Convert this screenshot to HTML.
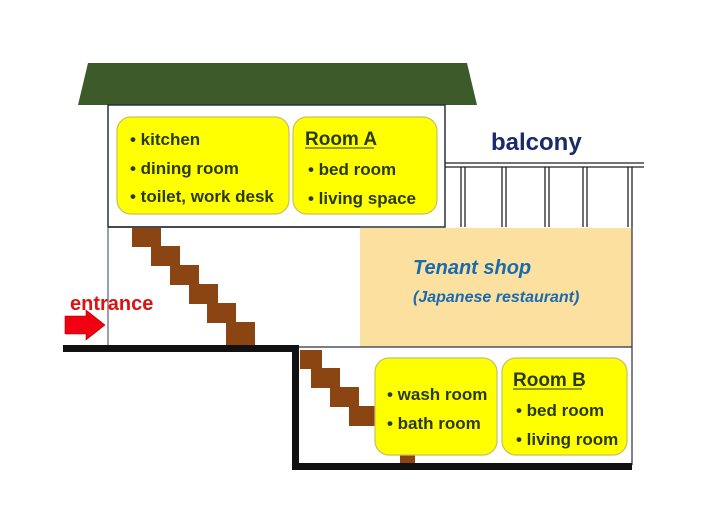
<!DOCTYPE html>
<html><head><meta charset="utf-8"><style>
body{margin:0;background:#fff;width:720px;height:509px;overflow:hidden}
svg text{font-family:"Liberation Sans",sans-serif;font-weight:bold}
</style></head><body>
<svg width="720" height="509" viewBox="0 0 720 509" xmlns="http://www.w3.org/2000/svg">
<polygon points="88,63 467,63 477,105 78,105" fill="#3d5a2a"/>
<rect x="108" y="105" width="337" height="122" fill="#fff" stroke="#2a3040" stroke-width="1.5"/>
<rect x="360" y="228" width="272" height="119" fill="#fbe0a0"/>
<line x1="108" y1="227" x2="108" y2="347" stroke="#7a8090" stroke-width="1.5"/>
<line x1="632" y1="227" x2="632" y2="465" stroke="#2a3040" stroke-width="1.2"/>
<line x1="297" y1="347" x2="632" y2="347" stroke="#2a3040" stroke-width="1.2"/>
<line x1="108" y1="227" x2="360" y2="227" stroke="#2a3040" stroke-width="1.5"/>
<g stroke="#222" stroke-width="1.3">
<line x1="445" y1="163" x2="644" y2="163"/><line x1="445" y1="167" x2="644" y2="167"/>
<line x1="461" y1="167" x2="461" y2="227"/><line x1="465" y1="167" x2="465" y2="227"/>
<line x1="502" y1="167" x2="502" y2="227"/><line x1="506" y1="167" x2="506" y2="227"/>
<line x1="545" y1="167" x2="545" y2="227"/><line x1="549" y1="167" x2="549" y2="227"/>
<line x1="583" y1="167" x2="583" y2="227"/><line x1="587" y1="167" x2="587" y2="227"/>
<line x1="628" y1="167" x2="628" y2="227"/><line x1="632" y1="167" x2="632" y2="227"/>
</g>
<text x="491" y="150" font-size="24" fill="#1a2a6a">balcony</text>
<g fill="#8b4513">
<rect x="132" y="228" width="29" height="19"/>
<rect x="151" y="246" width="29" height="20"/>
<rect x="170" y="265" width="29" height="20"/>
<rect x="189" y="284" width="29" height="20"/>
<rect x="207" y="303" width="29" height="20"/>
<rect x="226" y="322" width="29" height="23"/>
<rect x="300" y="350" width="22" height="19"/>
<rect x="311" y="368" width="29" height="20"/>
<rect x="330" y="387" width="29" height="20"/>
<rect x="349" y="406" width="29" height="20"/>
<rect x="400" y="452" width="15" height="12"/>
</g>
<g fill="#111">
<rect x="63" y="345" width="236" height="7"/>
<rect x="292" y="345" width="7" height="125"/>
<rect x="292" y="463" width="340" height="7"/>
</g>
<g fill="#ffff00" stroke="#c8c060" stroke-width="1.2">
<rect x="117" y="117" width="172" height="97" rx="14"/>
<rect x="293" y="117" width="144" height="97" rx="14"/>
<rect x="375" y="358" width="122" height="97" rx="14"/>
<rect x="502" y="358" width="125" height="97" rx="14"/>
</g>
<g font-size="17" fill="#2a3a10">
<text x="130" y="145">• kitchen</text>
<text x="130" y="174">• dining room</text>
<text x="130" y="202">• toilet, work desk</text>
<text x="305" y="145" font-size="19">Room A</text>
<text x="308" y="175">• bed room</text>
<text x="308" y="204">• living space</text>
<text x="387" y="400">• wash room</text>
<text x="387" y="429">• bath room</text>
<text x="513" y="386" font-size="19">Room B</text>
<text x="516" y="416">• bed room</text>
<text x="516" y="445">• living room</text>
</g>
<line x1="305" y1="148" x2="374" y2="148" stroke="#2a3a10" stroke-width="1"/>
<line x1="513" y1="389" x2="582" y2="389" stroke="#2a3a10" stroke-width="1"/>
<text x="413" y="274" font-size="20" font-style="italic" fill="#1a6ab0" font-weight="normal">Tenant shop</text>
<text x="413" y="302" font-size="16" font-style="italic" fill="#1a6ab0" font-weight="normal">(Japanese restaurant)</text>
<text x="70" y="310" font-size="20" fill="#e01010">entrance</text>
<polygon points="65,316 86,316 86,310 105,325 86,340 86,334 65,334" fill="#f00010" stroke="#a00" stroke-width="0.6"/>
</svg>
</body></html>
